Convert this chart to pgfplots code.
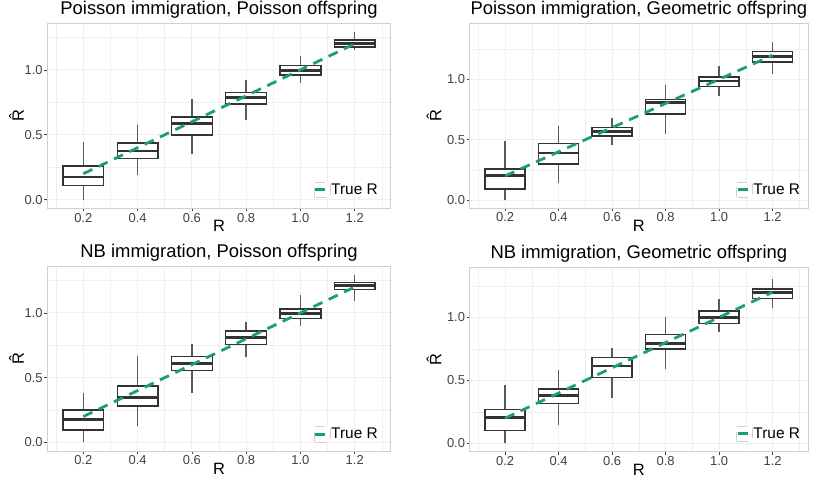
\documentclass[border=0pt]{standalone}
\usepackage{fontspec}
\setmainfont{Liberation Sans}
\usepackage{pgfplots}
\pgfplotsset{compat=1.18}
\usepgfplotslibrary{statistics}

\definecolor{trueR}{HTML}{1B9E77}
\definecolor{gridc}{HTML}{EFEFEF}
\definecolor{borderc}{HTML}{D0D0D0}
\definecolor{boxc}{HTML}{333333}
\definecolor{whiskc}{HTML}{5A5A5A}
\definecolor{tickc}{HTML}{404040}

% one box: position, lower whisker, lower quartile, median, upper quartile, upper whisker
\newcommand{\bx}[6]{%
  \addplot[boxc, line width=1.4bp, fill=white, forget plot,
    boxplot/draw direction=y,
    boxplot prepared={draw position=#1, lower whisker=#2, lower quartile=#3,
      median=#4, upper quartile=#5, upper whisker=#6,
      box extend=0.15, whisker extend=0,
      every median/.style={line width=2.8bp},
      every whisker/.style={whiskc}}]
    coordinates {};}

\pgfplotsset{
  trueimg/.style={legend image code/.code={
      \draw[borderc, fill=white, line width=0.7bp] (0bp,-7.8bp) rectangle (16bp,7.8bp);
      \draw[trueR, line width=3bp] (1.5bp,0bp) -- (14.5bp,0bp);}},
}

\newcommand{\trueline}{%
  \addplot[trueR, line width=2.8bp, dash pattern=on 10bp off 7bp, trueimg]
    coordinates {(0.2,0.2) (1.2,1.2)};
  \addlegendentry{True R}}

\pgfplotsset{
  panel/.style={
    scale only axis, anchor=south west,
    xmin=0.0675, xmax=1.3325, ymin=-0.066,
    xtick={0.2,0.4,0.6,0.8,1.0,1.2}, ytick={0,0.5,1},
    minor xtick={0.1,0.3,0.5,0.7,0.9,1.1,1.3}, minor ytick={0.25,0.75,1.25},
    grid=both,
    major grid style={gridc, line width=0.9bp},
    minor grid style={gridc, line width=0.5bp},
    axis line style={borderc, line width=0.8bp},
    tick pos=left, tick align=outside,
    major tick length=3bp, minor tick length=0pt,
    tick style={tickc, line width=0.6bp},
    /pgf/number format/.cd, fixed, fixed zerofill, precision=1, assume math mode=true,
    /pgfplots/.cd,
    ticklabel style={font=\fontsize{13}{14}\selectfont, text=tickc},
    xticklabel style={anchor=base, yshift=-11bp},
    yticklabel style={anchor=east, inner sep=0pt, xshift=-1.5bp},
    xlabel={R}, ylabel={R^^^^0302},
    xlabel style={at={(axis description cs:0.5,-0.128)}, anchor=base,
      font=\fontsize{16.5}{18}\selectfont},
    ylabel style={anchor=base, font=\fontsize{16.5}{18}\selectfont},
    title style={at={(axis description cs:0.5,1)}, anchor=base, yshift=3bp,
      font=\fontsize{18.5}{20}\selectfont},
    legend style={anchor=south east, draw=none, fill=none, inner sep=0pt,
      font=\fontsize{15.5}{16}\selectfont,
      nodes={inner sep=1bp}},
  }
}

\begin{document}
\begin{tikzpicture}
\useasboundingbox (0,0) rectangle (818bp,482bp);

% top left
\begin{axis}[panel, at={(47.3bp,273.7bp)}, width=343.4bp, height=185bp, ymax=1.358,
  title={Poisson immigration, Poisson offspring},
  ylabel style={at={(axis description cs:-0.068,0.5)}},
  legend style={at={(0.966,0.054)}}]
\bx{0.2}{0.000}{0.110}{0.175}{0.260}{0.445}
\bx{0.4}{0.193}{0.319}{0.375}{0.437}{0.578}
\bx{0.6}{0.352}{0.499}{0.584}{0.638}{0.774}
\bx{0.8}{0.617}{0.738}{0.784}{0.825}{0.920}
\bx{1.0}{0.900}{0.959}{0.992}{1.033}{1.105}
\bx{1.2}{1.149}{1.175}{1.203}{1.229}{1.293}
\trueline
\end{axis}

% top right
\begin{axis}[panel, at={(469.7bp,274bp)}, width=338.3bp, height=184.7bp, ymax=1.464,
  title={Poisson immigration, Geometric offspring},
  ylabel style={at={(axis description cs:-0.084,0.5)}},
  legend style={at={(0.980,0.054)}}]
\bx{0.2}{0.000}{0.092}{0.200}{0.256}{0.486}
\bx{0.4}{0.139}{0.297}{0.389}{0.467}{0.611}
\bx{0.6}{0.458}{0.531}{0.569}{0.600}{0.683}
\bx{0.8}{0.550}{0.711}{0.806}{0.831}{0.953}
\bx{1.0}{0.864}{0.942}{0.986}{1.019}{1.111}
\bx{1.2}{1.044}{1.144}{1.186}{1.231}{1.306}
\trueline
\end{axis}

% bottom left
\begin{axis}[panel, at={(47.3bp,31bp)}, width=343.4bp, height=185bp, ymax=1.362,
  title={NB immigration, Poisson offspring},
  ylabel style={at={(axis description cs:-0.068,0.5)}},
  legend style={at={(0.966,0.045)}}]
\bx{0.2}{0.000}{0.095}{0.179}{0.251}{0.385}
\bx{0.4}{0.128}{0.282}{0.349}{0.436}{0.669}
\bx{0.6}{0.382}{0.554}{0.608}{0.664}{0.759}
\bx{0.8}{0.656}{0.756}{0.810}{0.859}{0.933}
\bx{1.0}{0.895}{0.956}{0.997}{1.031}{1.138}
\bx{1.2}{1.092}{1.179}{1.210}{1.236}{1.295}
\trueline
\end{axis}

% bottom right
\begin{axis}[panel, at={(469.7bp,30.3bp)}, width=338.3bp, height=184.7bp, ymax=1.40,
  title={NB immigration, Geometric offspring},
  ylabel style={at={(axis description cs:-0.084,0.5)}},
  legend style={at={(0.980,0.052)}}]
\bx{0.2}{0.000}{0.103}{0.204}{0.267}{0.460}
\bx{0.4}{0.145}{0.315}{0.381}{0.431}{0.582}
\bx{0.6}{0.362}{0.524}{0.614}{0.680}{0.757}
\bx{0.8}{0.587}{0.749}{0.794}{0.862}{1.005}
\bx{1.0}{0.886}{0.950}{0.997}{1.050}{1.143}
\bx{1.2}{1.077}{1.151}{1.196}{1.225}{1.302}
\trueline
\end{axis}
\end{tikzpicture}
\end{document}
